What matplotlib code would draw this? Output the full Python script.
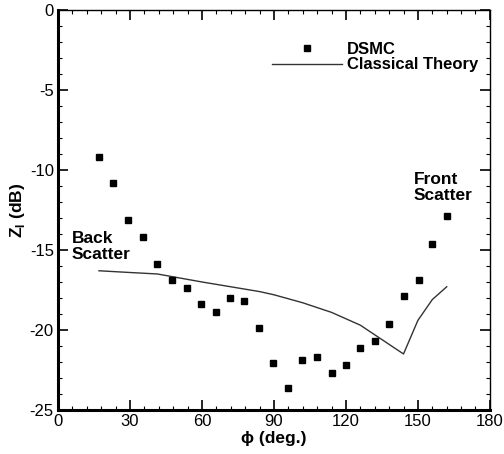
import matplotlib
matplotlib.use("Agg")
import matplotlib.pyplot as plt
from matplotlib.ticker import MultipleLocator

plt.rcParams['font.family'] = ['Liberation Sans', 'DejaVu Sans']
plt.rcParams['axes.unicode_minus'] = False

# DSMC points
phi_dsmc = [17.1, 23.0, 29.2, 35.3, 41.4, 47.5, 53.6, 59.6, 65.7, 71.7, 77.6, 83.9,
            89.7, 96.0, 101.8, 107.9, 114.0, 120.0, 126.0, 132.2, 138.1, 144.2,
            150.3, 156.0, 162.1]
z_dsmc = [-9.2, -10.8, -13.1, -14.2, -15.9, -16.9, -17.4, -18.4, -18.9, -18.0, -18.2, -19.9,
          -22.05, -23.6, -21.9, -21.7, -22.7, -22.2, -21.1, -20.7, -19.6, -17.9,
          -16.9, -14.6, -12.9]

# classical theory curve
phi_th = [17.1, 29.0, 41.4, 60.0, 72.0, 84.0, 90.0, 102.0, 114.0, 126.0, 132.0, 138.0,
          144.0, 150.0, 156.0, 162.0]
z_th = [-16.3, -16.4, -16.5, -17.0, -17.3, -17.6, -17.8, -18.3, -18.9, -19.7, -20.3, -20.9,
        -21.5, -19.4, -18.1, -17.3]

fig = plt.figure(figsize=(5.04, 4.54), dpi=100)
ax = fig.add_axes([0.115, 0.097, 0.857, 0.881])

ax.plot(phi_th, z_th, color='#333333', linewidth=1.0, label='Classical Theory')
ax.plot(phi_dsmc, z_dsmc, linestyle='none', marker='s', markersize=4.5,
        color='black', label='DSMC')

ax.set_xlim(0, 180)
ax.set_ylim(-25, 0)
ax.xaxis.set_major_locator(MultipleLocator(30))
ax.xaxis.set_minor_locator(MultipleLocator(6))
ax.yaxis.set_major_locator(MultipleLocator(5))
ax.yaxis.set_minor_locator(MultipleLocator(1))
ax.tick_params(which='both', direction='in', top=True, right=True, labelsize=12)
ax.tick_params(which='major', length=7, width=1.2, pad=3)
ax.tick_params(which='minor', length=3, width=0.8)

for side in ['left', 'bottom']:
    ax.spines[side].set_linewidth(2.2)
for side in ['top', 'right']:
    ax.spines[side].set_linewidth(1.0)

ax.set_xlabel('\u03d5 (deg.)', fontsize=12.5, fontweight='bold', labelpad=1)
ax.set_ylabel('Z$_\\mathregular{I}$ (dB)', fontsize=12.5, fontweight='bold', labelpad=2)

ax.text(5.8, -14.8, 'Back\nScatter', fontsize=12.5, fontweight='bold',
        ha='left', va='center', linespacing=1.05)
ax.text(148.3, -11.1, 'Front\nScatter', fontsize=12.5, fontweight='bold',
        ha='left', va='center', linespacing=1.05)

handles, labels = ax.get_legend_handles_labels()
ax.legend(handles[::-1], labels[::-1], loc='upper right', bbox_to_anchor=(1.0, 0.95),
          frameon=False, prop={'size': 12, 'weight': 'bold'}, handlelength=4.2,
          handletextpad=0.3, labelspacing=0.05, borderaxespad=0.3)

fig.savefig('out.png', dpi=100)
